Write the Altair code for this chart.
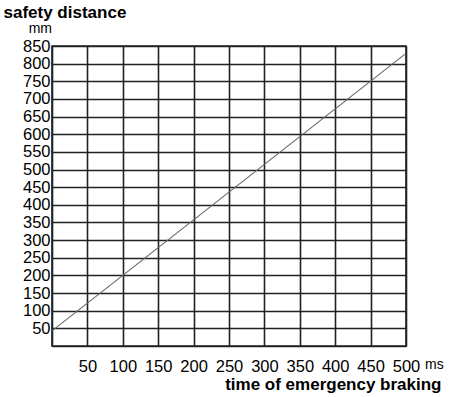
import altair as alt
import pandas as pd

# data
time_ms = [0, 500]
distance_mm = [43, 829]
x_ticks = list(range(0, 501, 50))
y_ticks = list(range(0, 851, 50))

df = pd.DataFrame({"t": time_ms, "s": distance_mm})

FONT = "Liberation Sans"

x_enc = alt.X(
    "t:Q",
    scale=alt.Scale(domain=[0, 500], nice=False),
    axis=alt.Axis(
        values=x_ticks,
        labelExpr="datum.value == 0 ? '' : datum.label",
        title="time of emergency braking",
        titleFont=FONT, titleFontSize=17, titleFontWeight="bold",
        titleAlign="right", titleBaseline="alphabetic",
        titleX=389, titleY=43, titleColor="black",
        labelFont=FONT, labelFontSize=16.5, labelColor="black",
        labelBaseline="alphabetic",
        labelPadding=25, ticks=False, domain=False,
        grid=True, gridColor="#222222", gridWidth=1.6, gridOpacity=1,
        labelFlush=False, labelOverlap=False,
    ),
)
y_enc = alt.Y(
    "s:Q",
    scale=alt.Scale(domain=[0, 850], nice=False),
    axis=alt.Axis(
        values=y_ticks,
        labelExpr="datum.value == 0 ? '' : datum.label",
        title="safety distance",
        titleFont=FONT, titleFontSize=17, titleFontWeight="bold",
        titleAngle=0, titleAlign="left", titleBaseline="alphabetic",
        titleX=-49, titleY=-29, titleColor="black",
        labelFont=FONT, labelFontSize=16.5, labelColor="black",
        labelPadding=2, ticks=False, domain=False,
        grid=True, gridColor="#222222", gridWidth=1.6, gridOpacity=1,
        labelFlush=False, labelOverlap=False, labelBaseline="middle",
    ),
)

line = alt.Chart(df).mark_line(color="#666666", strokeWidth=1.1).encode(x=x_enc, y=y_enc)

mm_text = alt.Chart(pd.DataFrame({"u": ["mm"]})).mark_text(
    font=FONT, fontSize=14, align="right", baseline="alphabetic", color="black"
).encode(x=alt.value(0), y=alt.value(-13), text="u:N")

ms_text = alt.Chart(pd.DataFrame({"u": ["ms"]})).mark_text(
    font=FONT, fontSize=14, align="left", baseline="alphabetic", color="black"
).encode(x=alt.value(373), y=alt.value(323), text="u:N")

chart = alt.layer(line, mm_text, ms_text).properties(
    width=354, height=300,
    autosize=alt.AutoSizeParams(type="none"),
    padding={"left": 52, "top": 46, "right": 44, "bottom": 51},
    background="white",
).configure_view(stroke="#222222", strokeWidth=1.6)

chart.save("out.html", embed_options={"renderer": "svg", "actions": False})
